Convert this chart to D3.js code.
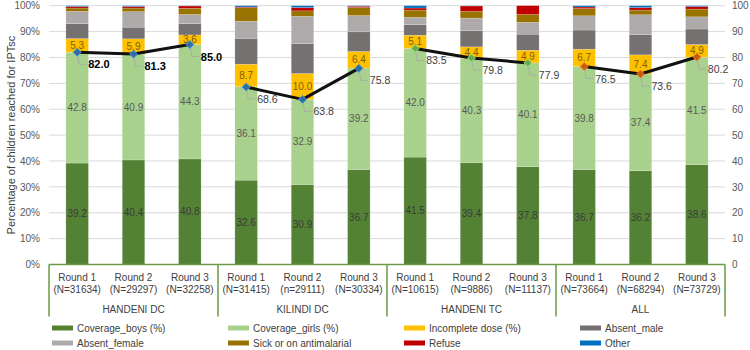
<!DOCTYPE html>
<html>
<head>
<meta charset="utf-8">
<script src="https://cdn.jsdelivr.net/npm/d3@7"></script>
<style>
  body { margin: 0; background: #fff; }
  svg { font-family: "Liberation Sans", Arial, sans-serif; }
</style>
</head>
<body>
<div id="chart"></div>
<script>
// ---- data ----
const groups = ["HANDENI DC", "KILINDI DC", "HANDENI TC", "ALL"];
const rounds = ["Round 1", "Round 2", "Round 3"];
const sampleSizes = ["(N=31634)", "(N=29297)", "(N=32258)",
                     "(N=31415)", "(n=29111)", "(N=30334)",
                     "(N=10615)", "(N=9886)", "(N=11137)",
                     "(N=73664)", "(N=68294)", "(N=73729)"];

const coverageBoys  = [39.2, 40.4, 40.8, 32.6, 30.9, 36.7, 41.5, 39.4, 37.8, 36.7, 36.2, 38.6];
const coverageGirls = [42.8, 40.9, 44.3, 36.1, 32.9, 39.2, 42.0, 40.3, 40.1, 39.8, 37.4, 41.5];
const incompleteDose = [5.3, 5.9, 3.6, 8.7, 10.0, 6.4, 5.1, 4.4, 4.9, 6.7, 7.4, 4.9];
const absentMale    = [5.8, 4.5, 4.4, 10.0, 11.6, 7.6, 4.1, 6.2, 6.2, 7.4, 7.8, 6.0];
const absentFemale  = [4.7, 6.0, 3.5, 6.6, 10.5, 6.3, 2.8, 4.9, 4.6, 5.5, 7.7, 4.7];
const sickAntimal   = [1.3, 1.4, 2.4, 5.2, 2.1, 3.1, 2.8, 2.6, 3.0, 2.8, 1.8, 3.0];
const refuse        = [0.6, 0.6, 0.9, 0.3, 1.3, 0.5, 0.8, 2.1, 3.4, 0.6, 1.0, 1.0];
const other         = [0.3, 0.3, 0.1, 0.5, 0.7, 0.2, 0.9, 0.1, 0.0, 0.5, 0.7, 0.3];
const totalCoverage = [82.0, 81.3, 85.0, 68.6, 63.8, 75.8, 83.5, 79.8, 77.9, 76.5, 73.6, 80.2];

const seriesNames = ["Coverage_boys (%)", "Coverage_girls (%)", "Incomplete dose (%)", "Absent_male",
                     "Absent_female", "Sick or on antimalarial", "Refuse", "Other"];
const seriesValues = [coverageBoys, coverageGirls, incompleteDose, absentMale,
                      absentFemale, sickAntimal, refuse, other];
const seriesColors = ["#548235", "#A9D18E", "#FFC000", "#767171",
                      "#AEAAAA", "#997300", "#C00000", "#0070C0"];
const markerColors = ["#2E6DA4", "#2E6DA4", "#6AA84F", "#C55A11"];

// ---- layout ----
const width = 750, height = 350;
const margin = { top: 5.7, right: 25, bottom: 85.5, left: 49 };
const innerBottom = height - margin.bottom;

const categories = sampleSizes.map((s, i) => i);

const svg = d3.select("#chart").append("svg")
  .attr("width", width)
  .attr("height", height);

const x = d3.scaleBand()
  .domain(categories)
  .range([margin.left, width - margin.right])
  .paddingInner(0.6)
  .paddingOuter(0.3);

const y = d3.scaleLinear().domain([0, 1]).range([innerBottom, margin.top]);
const y2 = d3.scaleLinear().domain([0, 100]).range([innerBottom, margin.top]);

// gridlines
svg.append("g")
  .selectAll("line")
  .data(d3.range(0.1, 1.01, 0.1))
  .join("line")
    .attr("x1", margin.left)
    .attr("x2", width - margin.right)
    .attr("y1", d => y(d))
    .attr("y2", d => y(d))
    .attr("stroke", "#D9D9D9")
    .attr("stroke-width", 1);

// left axis
const yAxis = svg.append("g")
  .attr("transform", `translate(${margin.left},0)`)
  .call(d3.axisLeft(y).ticks(10).tickFormat(d3.format(".0%")).tickSize(0).tickPadding(9));
yAxis.select(".domain").remove();
yAxis.selectAll("text").attr("fill", "#595959").style("font-size", "10px")
  .style("font-family", "'Liberation Sans', Arial, sans-serif");

// right axis
const yAxis2 = svg.append("g")
  .attr("transform", `translate(${width - margin.right},0)`)
  .call(d3.axisRight(y2).ticks(10).tickSize(0).tickPadding(7));
yAxis2.select(".domain").remove();
yAxis2.selectAll("text").attr("fill", "#595959").style("font-size", "10px")
  .style("font-family", "'Liberation Sans', Arial, sans-serif");

// y axis title
svg.append("text")
  .attr("transform", `translate(12,${(margin.top + innerBottom) / 2}) rotate(-90)`)
  .attr("text-anchor", "middle")
  .attr("dominant-baseline", "middle")
  .attr("fill", "#404040")
  .style("font-size", "11px")
  .text("Percentage of children reached for IPTsc");

// stacked bars
const rows = categories.map(i => {
  const r = { idx: i };
  seriesNames.forEach((n, k) => r[n] = seriesValues[k][i] / 100);
  return r;
});
const stacked = d3.stack().keys(seriesNames)(rows);

const layers = svg.append("g")
  .selectAll("g")
  .data(stacked)
  .join("g")
    .attr("fill", (d, k) => seriesColors[k]);

layers.selectAll("rect")
  .data(d => d)
  .join("rect")
    .attr("x", d => x(d.data.idx))
    .attr("width", x.bandwidth())
    .attr("y", d => y(d[1]))
    .attr("height", d => Math.max(0, y(d[0]) - y(d[1])))
    .attr("stroke", "#ffffff")
    .attr("stroke-opacity", 0.35)
    .attr("stroke-width", 0.5);

// segment value labels (first three series)
const labelColors = ["#3A3A3A", "#595959", "#7F6000"];
stacked.slice(0, 3).forEach((layer, k) => {
  svg.append("g")
    .selectAll("text")
    .data(layer)
    .join("text")
      .attr("x", d => x(d.data.idx) + x.bandwidth() / 2)
      .attr("y", d => y((d[0] + d[1]) / 2))
      .attr("text-anchor", "middle")
      .attr("dominant-baseline", "central")
      .attr("fill", labelColors[k])
      .style("font-size", "10px")
      .text(d => d3.format(".1f")((d[1] - d[0]) * 100));
});

// total coverage line, one segment per district
const line = d3.line()
  .x(i => x(i) + x.bandwidth() / 2)
  .y(i => y2(totalCoverage[i]));

groups.forEach((g, gi) => {
  const idxs = d3.range(gi * 3, gi * 3 + 3);
  svg.append("path")
    .attr("d", line(idxs))
    .attr("fill", "none")
    .attr("stroke", "#111")
    .attr("stroke-width", 3)
    .attr("stroke-linejoin", "round");
});

// leader lines + labels
const lbl = svg.append("g");
categories.forEach(i => {
  const px = x(i) + x.bandwidth() / 2;
  const py = y2(totalCoverage[i]);
  const gi = Math.floor(i / 3);
  lbl.append("path")
    .attr("d", `M${px},${py} L${px + 2},${py + 12} L${px + 9},${py + 12}`)
    .attr("fill", "none")
    .attr("stroke", "#A6A6A6")
    .attr("stroke-width", 0.8);
  lbl.append("text")
    .attr("x", px + 11)
    .attr("y", py + 12)
    .attr("dominant-baseline", "central")
    .attr("fill", gi === 0 ? "#000" : "#404040")
    .style("font-size", gi === 0 ? "11px" : "10.5px")
    .style("font-weight", gi === 0 ? "bold" : "normal")
    .text(d3.format(".1f")(totalCoverage[i]));
});

// markers
svg.append("g")
  .selectAll("path")
  .data(categories)
  .join("path")
    .attr("transform", i => `translate(${x(i) + x.bandwidth() / 2},${y2(totalCoverage[i])})`)
    .attr("d", d3.symbol(d3.symbolDiamond2, 40))
    .attr("fill", i => markerColors[Math.floor(i / 3)])
    .attr("stroke", i => d3.color(markerColors[Math.floor(i / 3)]).brighter(0.9))
    .attr("stroke-width", 1);

// category axis (multi-level)
const axisColor = "#6A9A45";
const axisG = svg.append("g");
axisG.append("line")
  .attr("x1", margin.left).attr("x2", width - margin.right)
  .attr("y1", innerBottom).attr("y2", innerBottom)
  .attr("stroke", axisColor).attr("stroke-width", 1.5);

const halfGap = (x.step() - x.bandwidth()) / 2;
const seps = groups.map((g, gi) => x(gi * 3) - halfGap).concat([width - margin.right]);
axisG.selectAll("line.sep")
  .data(seps)
  .join("line")
    .attr("class", "sep")
    .attr("x1", d => d).attr("x2", d => d)
    .attr("y1", innerBottom).attr("y2", innerBottom + 52)
    .attr("stroke", axisColor).attr("stroke-width", 1.5);

axisG.selectAll("text.round")
  .data(categories)
  .join("text")
    .attr("class", "round")
    .attr("x", i => x(i) + x.bandwidth() / 2)
    .attr("y", innerBottom + 13)
    .attr("text-anchor", "middle")
    .attr("dominant-baseline", "central")
    .attr("fill", "#404040")
    .style("font-size", "10px")
    .text(i => rounds[i % 3]);

axisG.selectAll("text.n")
  .data(categories)
  .join("text")
    .attr("class", "n")
    .attr("x", i => x(i) + x.bandwidth() / 2)
    .attr("y", innerBottom + 25)
    .attr("text-anchor", "middle")
    .attr("dominant-baseline", "central")
    .attr("fill", "#404040")
    .style("font-size", "10px")
    .text(i => sampleSizes[i]);

axisG.selectAll("text.grp")
  .data(groups)
  .join("text")
    .attr("class", "grp")
    .attr("x", (g, gi) => (seps[gi] + seps[gi + 1]) / 2)
    .attr("y", innerBottom + 45)
    .attr("text-anchor", "middle")
    .attr("dominant-baseline", "central")
    .attr("fill", "#404040")
    .style("font-size", "10px")
    .text(g => g);

// legend
const legend = svg.append("g")
  .selectAll("g")
  .data(seriesNames)
  .join("g")
    .attr("transform", (d, k) => `translate(${52 + (k % 4) * 176},${328 + Math.floor(k / 4) * 15})`);
legend.append("rect")
  .attr("x", 0).attr("y", -2.5)
  .attr("width", 21).attr("height", 5)
  .attr("fill", (d, k) => seriesColors[k]);
legend.append("text")
  .attr("x", 25)
  .attr("y", 0)
  .attr("dominant-baseline", "central")
  .attr("fill", "#404040")
  .style("font-size", "10px")
  .text(d => d);
</script>
</body>
</html>
